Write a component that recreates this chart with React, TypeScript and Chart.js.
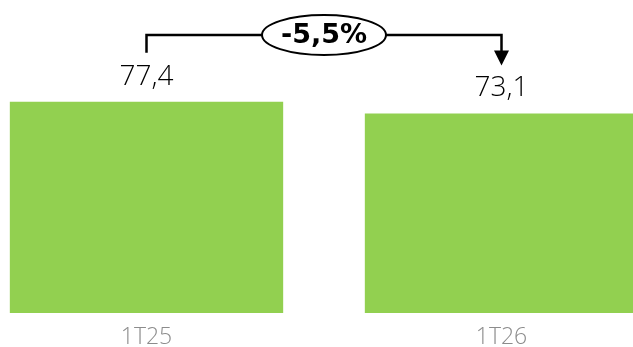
import React, { useEffect, useRef } from "react";
import { Chart, registerables } from "chart.js";

Chart.register(...registerables);

const categories = ["1T25", "1T26"];
const values = [77.4, 73.1];
const valueLabels = ["77,4", "73,1"];
const changeLabel = "-5,5%";

const GREEN = "#92d050";

const annotationPlugin = {
  id: "annot",
  afterDatasetsDraw(chart: any) {
    const ctx = chart.ctx as CanvasRenderingContext2D;
    const meta = chart.getDatasetMeta(0);
    const yScale = chart.scales.y;
    const area = chart.chartArea;
    ctx.save();
    // value labels
    ctx.fillStyle = "#000";
    ctx.font = "300 28px 'Open Sans', 'DejaVu Sans', sans-serif";
    ctx.textAlign = "center";
    ctx.textBaseline = "alphabetic";
    meta.data.forEach((bar: any, i: number) => {
      ctx.fillText(valueLabels[i], bar.x, yScale.getPixelForValue(values[i]) - 17);
    });
    // bracket
    const x1 = meta.data[0].x;
    const x2 = meta.data[1].x;
    const yTop = area.top - 5;
    const y1End = yScale.getPixelForValue(values[0]) - 49;
    const tipY = yScale.getPixelForValue(values[1]) - 48;
    ctx.strokeStyle = "#000";
    ctx.lineWidth = 2.5;
    ctx.beginPath();
    ctx.moveTo(x1, y1End);
    ctx.lineTo(x1, yTop);
    ctx.lineTo(x2, yTop);
    ctx.lineTo(x2, tipY - 14);
    ctx.stroke();
    ctx.fillStyle = "#000";
    ctx.beginPath();
    ctx.moveTo(x2 - 7.5, tipY - 15);
    ctx.lineTo(x2 + 7.5, tipY - 15);
    ctx.lineTo(x2, tipY);
    ctx.closePath();
    ctx.fill();
    // ellipse
    const cx = (x1 + x2) / 2;
    ctx.beginPath();
    ctx.ellipse(cx, yTop, 62, 20, 0, 0, Math.PI * 2);
    ctx.fillStyle = "#fff";
    ctx.fill();
    ctx.lineWidth = 2;
    ctx.stroke();
    ctx.fillStyle = "#000";
    ctx.font = "bold 27px 'DejaVu Sans', sans-serif";
    ctx.textAlign = "center";
    ctx.textBaseline = "middle";
    ctx.fillText(changeLabel, cx, yTop + 1);
    ctx.restore();
  },
};

export default function App() {
  const ref = useRef<HTMLCanvasElement | null>(null);
  useEffect(() => {
    if (!ref.current) return;
    const chart = new Chart(ref.current, {
      type: "bar",
      data: {
        labels: categories,
        datasets: [
          {
            data: values,
            backgroundColor: GREEN,
            barPercentage: 0.77,
            categoryPercentage: 1,
          },
        ],
      },
      options: {
        animation: false,
        responsive: true,
        maintainAspectRatio: false,
        layout: { padding: { top: 40, left: 0, right: 0, bottom: 0 } },
        plugins: { legend: { display: false }, tooltip: { enabled: false } },
        scales: {
          y: { display: false, min: 0, max: 100 },
          x: {
            grid: { display: false, drawTicks: false },
            border: { display: false },
            ticks: {
              color: "#8c8c8c",
              font: { family: "'Open Sans', sans-serif", size: 23, weight: 300 as any, lineHeight: 1 },
              padding: 13,
            },
          },
        },
      },
      plugins: [annotationPlugin],
    });
    return () => chart.destroy();
  }, []);
  return (
    <div style={{ position: "fixed", left: 0, top: 0, width: 633, height: 347, overflow: "hidden", background: "#fff" }}>
      <div style={{ position: "absolute", left: -31, top: 0, width: 710, height: 362 }}>
        <canvas ref={ref} />
      </div>
    </div>
  );
}
